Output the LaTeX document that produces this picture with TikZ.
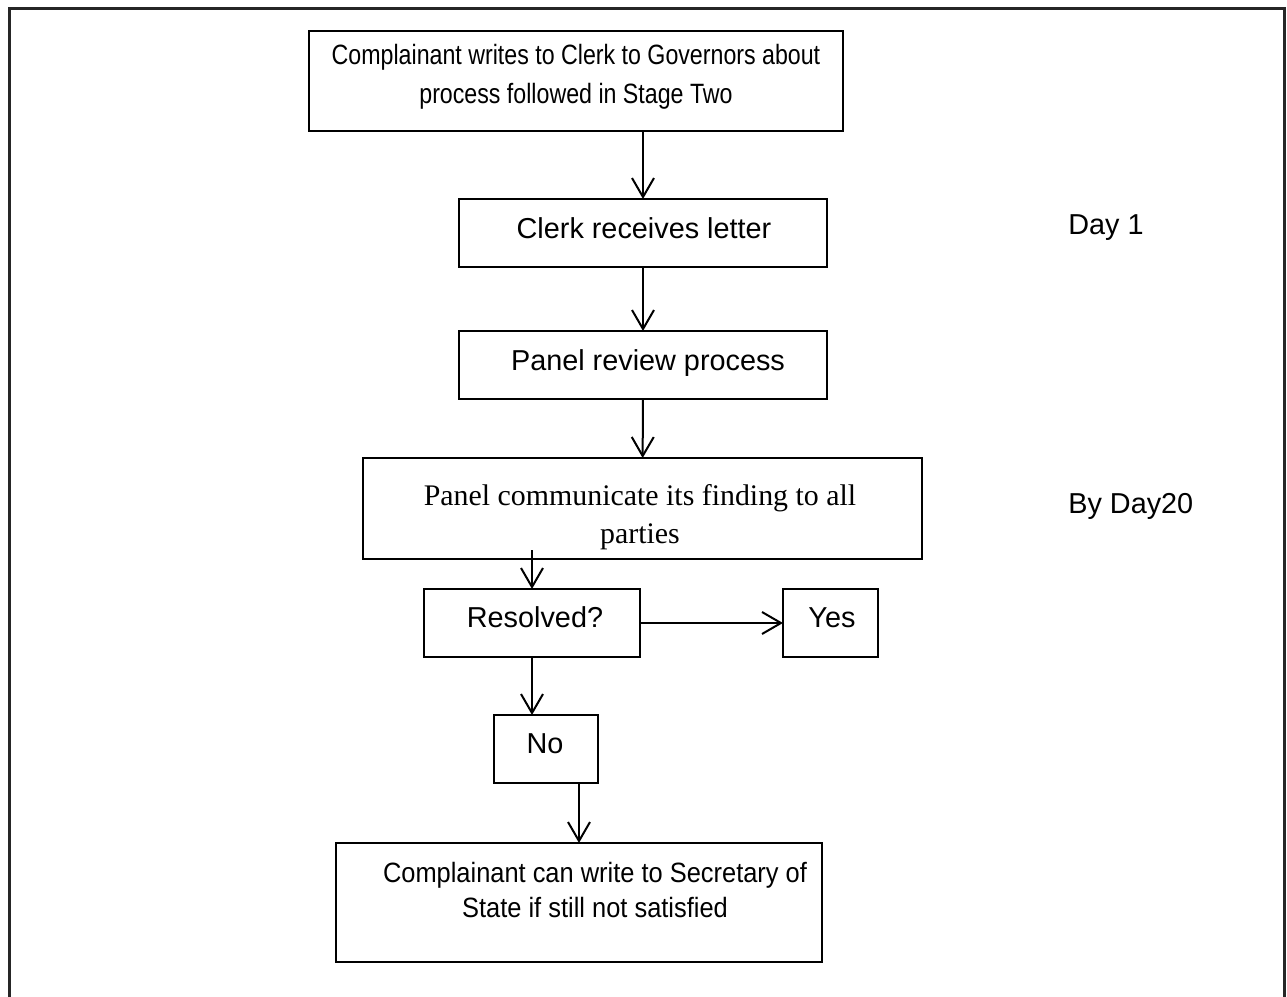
\documentclass[tikz,border=0pt]{standalone}
\usepackage{fontspec}
\setmainfont{Liberation Sans}
\newfontfamily\serifface{Liberation Serif}
\newfontfamily\narrowface[FakeStretch=0.83]{Liberation Sans}
\newfontfamily\midface[FakeStretch=0.91]{Liberation Sans}
\usetikzlibrary{arrows.meta}

\begin{document}
\begin{tikzpicture}[x=0.2mm,y=-0.2mm,
  stage/.style={rectangle,draw=black,line width=0.4mm,outer sep=0pt,inner sep=0pt},
  lbl/.style={inner sep=0pt,align=center,font=\fontsize{16.4pt}{22pt}\selectfont},
  flow/.style={-{Straight Barb[length=3.8mm,width=4.4mm]},line width=0.4mm}]
  \useasboundingbox (0,0) rectangle (1287,997);
  % cadre ouvert en bas
  \draw[line width=0.6mm,black!85] (9,1010) -- (9,8) -- (1284,8) -- (1284,1010);
  % etapes
  \node[stage,minimum width=106.8mm,minimum height=20mm] (complaint) at (576,81) {};
  \node[stage,minimum width=73.6mm,minimum height=13.6mm] (receive) at (643,233) {};
  \node[stage,minimum width=73.6mm,minimum height=13.6mm] (review) at (643,365) {};
  \node[stage,minimum width=111.8mm,minimum height=20.2mm] (finding) at (642.5,508.5) {};
  \node[stage,minimum width=43.2mm,minimum height=13.6mm] (resolved) at (532,623) {};
  \node[stage,minimum width=19mm,minimum height=13.6mm] (yes) at (830.5,623) {};
  \node[stage,minimum width=20.8mm,minimum height=13.6mm] (no) at (546,749) {};
  \node[stage,minimum width=97.2mm,minimum height=23.8mm] (satisfy) at (579,902.5) {};
  % textes
  \node[lbl,font=\narrowface\fontsize{15.9pt}{22.1pt}\selectfont] (complainttxt) at (576,77)
    {Complainant writes to Clerk to Governors about\\process followed in Stage Two};
  \node[lbl,anchor=base] (receivetxt) at (644,238) {Clerk receives letter};
  \node[lbl,anchor=base] (reviewtxt) at (648,370) {Panel review process};
  \node[lbl,font=\serifface\fontsize{17pt}{21.5pt}\selectfont] (findingtxt) at (640,517)
    {Panel communicate its finding to all\\parties};
  \node[lbl,anchor=base] (resolvedtxt) at (535,627) {Resolved?};
  \node[lbl,anchor=base] (yestxt) at (832,627) {Yes};
  \node[lbl,anchor=base] (notxt) at (545,753) {No};
  \node[lbl,font=\midface\fontsize{15.9pt}{19.8pt}\selectfont] (satisfytxt) at (595,890)
    {Complainant can write to Secretary of\\State if still not satisfied};
  \node[lbl,anchor=base west] (dayone) at (1068,234) {Day 1};
  \node[lbl,anchor=base west] (daytwenty) at (1068,513) {By Day20};
  % fleches
  \draw[flow] (receive.north |- complaint.south) -- (receive.north);
  \draw[flow] (receive) -- (review);
  \draw[flow] (review) -- (finding);
  \draw[flow,shorten <=-1.8mm] (resolved.north |- finding.south) -- (resolved.north);
  \draw[flow] (resolved) -- (yes);
  \draw[flow] (resolved.south) -- (resolved.south |- no.north);
  \draw[flow] (satisfy.north |- no.south) -- (satisfy.north);
\end{tikzpicture}
\end{document}
